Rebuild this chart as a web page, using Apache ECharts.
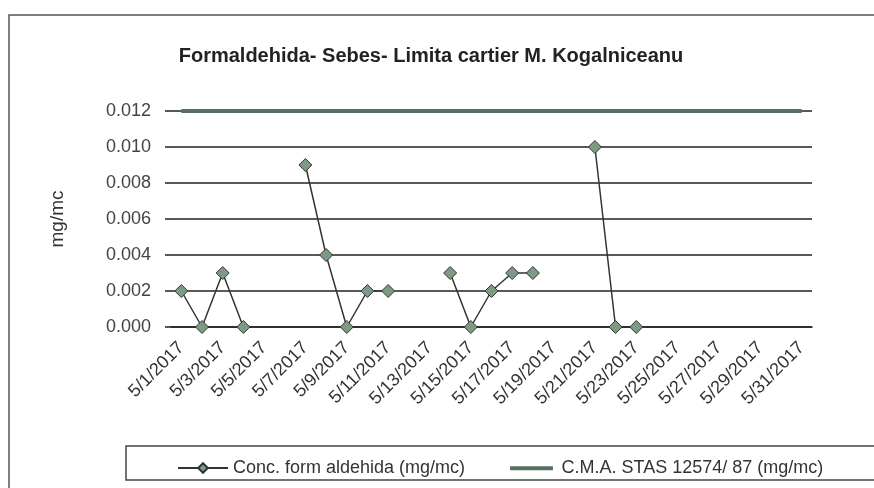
<!DOCTYPE html>
<html>
<head>
<meta charset="utf-8">
<script src="https://cdn.jsdelivr.net/npm/echarts@6/dist/echarts.min.js"></script>
<style>
  html, body { margin: 0; padding: 0; background: #fff; }
  #chart { width: 874px; height: 488px; }
</style>
</head>
<body>
<div id="chart"></div>
<script>
// zilele lunii mai 2017
var days = [];
for (var d = 1; d <= 31; d++) days.push('5/' + d + '/2017');

// concentratie formaldehida (mg/mc), null = fara masuratoare
var concValues = [0.002, 0, 0.003, 0, null, null, 0.009, 0.004, 0, 0.002,
  0.002, null, null, 0.003, 0, 0.002, 0.003, 0.003, null, null,
  0.010, 0, 0, null, null, null, null, null, null, null, null];

// limita C.M.A. STAS 12574/87
var limitValues = [0.012, 0.012, 0.012, 0.012, 0.012, 0.012, 0.012, 0.012, 0.012, 0.012,
  0.012, 0.012, 0.012, 0.012, 0.012, 0.012, 0.012, 0.012, 0.012, 0.012,
  0.012, 0.012, 0.012, 0.012, 0.012, 0.012, 0.012, 0.012, 0.012, 0.012, 0.012];

var chart = echarts.init(document.getElementById('chart'));
chart.setOption({
  animation: false,
  textStyle: { fontFamily: 'Liberation Sans, Arial, sans-serif' },
  title: {
    text: 'Formaldehida- Sebes- Limita cartier M. Kogalniceanu',
    left: 426,
    textAlign: 'center',
    top: 41,
    textStyle: { fontSize: 20, fontWeight: 'bold', color: '#222' }
  },
  graphic: [
    { type: 'rect', shape: { x: 9, y: 15, width: 880, height: 500 },
      style: { fill: 'none', stroke: '#555', lineWidth: 1.5 } },
    { type: 'rect', shape: { x: 126, y: 446, width: 760, height: 34 },
      style: { fill: 'none', stroke: '#444', lineWidth: 1.5 } }
  ],
  legend: {
    left: 172,
    top: 454,
    itemWidth: 50,
    itemHeight: 12,
    itemGap: 45,
    textStyle: { fontSize: 18, color: '#333' },
    data: [
      { name: 'Conc. form aldehida (mg/mc)' },
      { name: 'C.M.A. STAS 12574/ 87 (mg/mc)',
        icon: 'path://M0,0h0.01v0.01h-0.01z M0,5h50v4.5h-50z M0,13.99h0.01v0.01h-0.01z' }
    ]
  },
  grid: { left: 171, right: 62, top: 111, bottom: 161 },
  xAxis: {
    type: 'category',
    data: days,
    boundaryGap: true,
    axisLine: { lineStyle: { color: '#222', width: 1.5 } },
    axisTick: { interval: 1, length: 5, lineStyle: { color: '#222' } },
    axisLabel: { interval: 1, rotate: 45, fontSize: 18, color: '#333', margin: 18 }
  },
  yAxis: {
    type: 'value',
    min: 0,
    max: 0.012,
    interval: 0.002,
    name: 'mg/mc',
    nameLocation: 'middle',
    nameGap: 104,
    nameTextStyle: { fontSize: 19, color: '#333' },
    axisLine: { show: false },
    axisTick: { show: true, length: 6, lineStyle: { color: '#222', width: 1.5 } },
    axisLabel: { fontSize: 18, color: '#444', margin: 20,
      formatter: function (v) { return v.toFixed(3); } },
    splitLine: { lineStyle: { color: '#222', width: 1.5 } }
  },
  series: [
    {
      name: 'Conc. form aldehida (mg/mc)',
      type: 'line',
      data: concValues,
      connectNulls: false,
      symbol: 'diamond',
      symbolSize: 13,
      lineStyle: { color: '#333', width: 1.5 },
      itemStyle: { color: '#7d9a84', borderColor: '#333', borderWidth: 1 },
      z: 3
    },
    {
      name: 'C.M.A. STAS 12574/ 87 (mg/mc)',
      type: 'line',
      data: limitValues,
      symbol: 'none',
      lineStyle: { color: '#56705f', width: 4 },
      itemStyle: { color: '#56705f' },
      z: 2
    }
  ]
});
</script>
</body>
</html>
